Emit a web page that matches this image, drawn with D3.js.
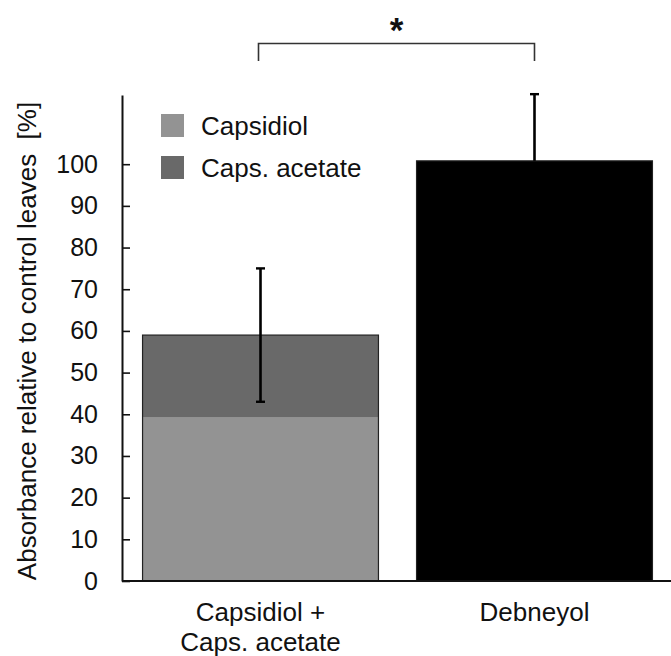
<!DOCTYPE html>
<html>
<head>
<meta charset="utf-8">
<script src="https://cdn.jsdelivr.net/npm/d3@7"></script>
<style>
  body { margin: 0; background: #fff; }
  svg { display: block; font-family: "Liberation Sans", Arial, sans-serif; }
</style>
</head>
<body>
<svg id="chart" width="671" height="656"></svg>
<script>
// values
var categories = ["Capsidiol +|Caps. acetate", "Debneyol"];
var capsidiol = [39.2, 0];
var capsAcetate = [19.8, 0];
var debneyol = [0, 100.8];
var errors = [16, 16];
var yTicks = [0, 10, 20, 30, 40, 50, 60, 70, 80, 90, 100];
var legendLabels = ["Capsidiol", "Caps. acetate"];
var colors = { Capsidiol: "#939393", "Caps. acetate": "#696969", Debneyol: "#000000" };

var svg = d3.select("#chart");

var dims = { left: 122, right: 673, top: 95, bottom: 581 };

var xScale = d3.scaleBand()
  .domain(categories)
  .range([dims.left, dims.right])
  .paddingInner(0.139)
  .paddingOuter(0.075);

var yScale = d3.scaleLinear().domain([0, 116.6]).range([dims.bottom, dims.top]);

// stack table built from the arrays
var keys = ["Capsidiol", "Caps. acetate", "Debneyol"];
var table = categories.map(function (c, i) {
  return { cat: c, Capsidiol: capsidiol[i], "Caps. acetate": capsAcetate[i], Debneyol: debneyol[i] };
});
var stacked = d3.stack().keys(keys)(table);

// bars
svg.append("g")
  .selectAll("g")
  .data(stacked)
  .enter()
  .append("g")
  .attr("fill", function (s) { return colors[s.key]; })
  .selectAll("rect")
  .data(function (s) { return s.filter(function (d) { return d[1] - d[0] > 0; }); })
  .enter()
  .append("rect")
  .attr("x", function (d) { return xScale(d.data.cat); })
  .attr("width", xScale.bandwidth())
  .attr("y", function (d) { return yScale(d[1]); })
  .attr("height", function (d) { return yScale(d[0]) - yScale(d[1]); });

// outline around each whole bar
svg.append("g")
  .selectAll("rect")
  .data(table)
  .enter()
  .append("rect")
  .attr("x", function (d) { return xScale(d.cat); })
  .attr("width", xScale.bandwidth())
  .attr("y", function (d, i) { return yScale(capsidiol[i] + capsAcetate[i] + debneyol[i]); })
  .attr("height", function (d, i) { return dims.bottom - yScale(capsidiol[i] + capsAcetate[i] + debneyol[i]); })
  .attr("fill", "none")
  .attr("stroke", "#222")
  .attr("stroke-width", 1.2);

// error bars (Debneyol only shows the upper half above the black bar)
var errG = svg.append("g").attr("stroke", "#000");
table.forEach(function (d, i) {
  var total = capsidiol[i] + capsAcetate[i] + debneyol[i];
  var cx = xScale(d.cat) + xScale.bandwidth() / 2;
  var lo = i === 0 ? total - errors[i] : total;
  var hi = total + errors[i];
  errG.append("line")
    .attr("x1", cx).attr("x2", cx)
    .attr("y1", yScale(lo)).attr("y2", yScale(hi))
    .attr("stroke-width", 2.6);
  errG.append("line")
    .attr("x1", cx - 4.5).attr("x2", cx + 4.5)
    .attr("y1", yScale(hi)).attr("y2", yScale(hi))
    .attr("stroke-width", 2.4);
  if (i === 0) {
    errG.append("line")
      .attr("x1", cx - 4.5).attr("x2", cx + 4.5)
      .attr("y1", yScale(lo)).attr("y2", yScale(lo))
      .attr("stroke-width", 2.4);
  }
});

// y axis, ticks pointing inward
var yAxis = d3.axisLeft(yScale).tickValues(yTicks).tickSizeInner(-8).tickSizeOuter(0).tickPadding(24);
var yG = svg.append("g")
  .attr("transform", "translate(" + dims.left + ",0)")
  .call(yAxis);
yG.select(".domain").attr("stroke", "#111").attr("stroke-width", 2);
yG.selectAll(".tick line").attr("stroke", "#111").attr("stroke-width", 1.6);
yG.selectAll(".tick text")
  .attr("font-size", "25px")
  .attr("fill", "#111")
  .attr("font-family", "Liberation Sans, Arial, sans-serif");

// x axis line
svg.append("line")
  .attr("x1", dims.left).attr("x2", 671)
  .attr("y1", dims.bottom).attr("y2", dims.bottom)
  .attr("stroke", "#111")
  .attr("stroke-width", 2);

// category labels
svg.append("g")
  .selectAll("text")
  .data(categories)
  .enter()
  .append("text")
  .attr("text-anchor", "middle")
  .attr("font-size", "26px")
  .attr("fill", "#111")
  .each(function (c) {
    var t = d3.select(this);
    c.split("|").forEach(function (line, j) {
      t.append("tspan")
        .attr("x", xScale(c) + xScale.bandwidth() / 2)
        .attr("y", 621 + j * 30)
        .text(line);
    });
  });

// y label
svg.append("text")
  .attr("transform", "translate(36,341) rotate(-90)")
  .attr("text-anchor", "middle")
  .attr("font-size", "26px")
  .attr("fill", "#111")
  .attr("xml:space", "preserve")
  .style("white-space", "pre")
  .text("Absorbance relative to control leaves  [%]");

// legend
var legend = svg.append("g").attr("transform", "translate(161,114)");
legendLabels.forEach(function (k, i) {
  legend.append("rect")
    .attr("x", 0).attr("y", i * 42)
    .attr("width", 23).attr("height", 23)
    .attr("fill", colors[k]);
  legend.append("text")
    .attr("x", 40).attr("y", i * 42 + 21)
    .attr("font-size", "26px")
    .attr("fill", "#111")
    .text(k);
});

// significance bracket
var x1 = xScale(categories[0]) + xScale.bandwidth() / 2 - 2;
var x2 = xScale(categories[1]) + xScale.bandwidth() / 2;
svg.append("path")
  .attr("d", "M" + x1 + ",61V43.5H" + x2 + "V61")
  .attr("fill", "none")
  .attr("stroke", "#333")
  .attr("stroke-width", 1.6);
svg.append("text")
  .attr("x", (x1 + x2) / 2)
  .attr("y", 42)
  .attr("text-anchor", "middle")
  .attr("font-size", "35px")
  .attr("font-weight", "bold")
  .attr("fill", "#111")
  .text("*");
</script>
</body>
</html>
